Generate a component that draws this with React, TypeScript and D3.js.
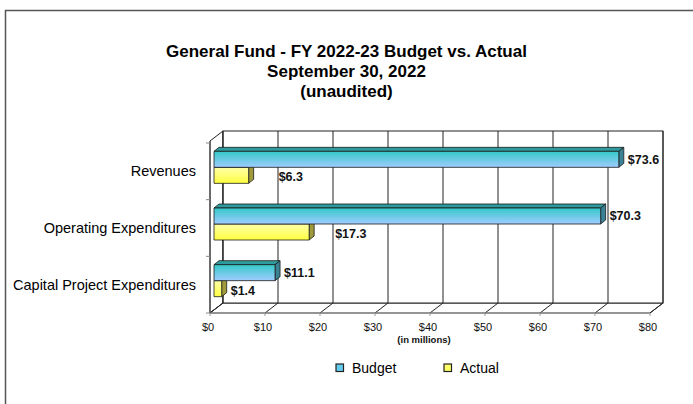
import React from "react";
import * as d3 from "d3";

const categories = ["Revenues", "Operating Expenditures", "Capital Project Expenditures"];
const budgetValues = [73.6, 70.3, 11.1];
const actualValues = [6.3, 17.3, 1.4];
const seriesNames = ["Budget", "Actual"];
const xTickValues = [0, 10, 20, 30, 40, 50, 60, 70, 80];
const titleLines = ["General Fund - FY 2022-23 Budget vs. Actual", "September 30, 2022", "(unaudited)"];
const axisNote = "(in millions)";

const W = 693;
const H = 404;
const FONT = "'Liberation Sans', Arial, Helvetica, sans-serif";

// layout
const DX = 13; // wall depth
const DY = 10;
const FRONT_TOP = 141;
const FRONT_BOTTOM = 313;
const BAR_H = 16;
const BAR_OFF_X = 4; // bar front face depth
const BAR_OFF_Y = 3;
const BAR_DX = 5; // bar depth
const BAR_DY = 4;
// manual nudges of the "Actual" value labels (as placed in the original)
const ACTUAL_LABEL_NUDGE = [21, 17, 0];

const fmt = (v: number) => `$${v.toFixed(1)}`;

export default function App() {
  const x = d3.scaleLinear().domain([0, 80]).range([210, 650]);
  const y = d3.scaleBand<string>().domain(categories).range([143, FRONT_BOTTOM]);
  const bw = y.bandwidth();

  const backL = x(0) + DX;
  const backR = x(80) + DX;
  const backT = FRONT_TOP - DY;
  const backB = FRONT_BOTTOM - DY;

  const bar = (v: number, yTopFront: number, kind: "b" | "a", key: string) => {
    const fx0 = x(0) + BAR_OFF_X;
    const fx1 = x(v) + BAR_OFF_X;
    const yt = yTopFront - BAR_OFF_Y;
    const yb = yt + BAR_H;
    const front = kind === "b" ? "url(#gBudget)" : "url(#gActual)";
    const top = kind === "b" ? "#2e9c9e" : "#d8d860";
    const side = kind === "b" ? "#3a8296" : "#a09a3c";
    return (
      <g key={key} stroke="#1a1a1a" strokeWidth={0.8} strokeLinejoin="round">
        <polygon
          points={`${fx0},${yt} ${fx1},${yt} ${fx1 + BAR_DX},${yt - BAR_DY} ${fx0 + BAR_DX},${yt - BAR_DY}`}
          fill={top}
        />
        <polygon
          points={`${fx1},${yt} ${fx1 + BAR_DX},${yt - BAR_DY} ${fx1 + BAR_DX},${yb - BAR_DY} ${fx1},${yb}`}
          fill={side}
        />
        <rect x={fx0} y={yt} width={fx1 - fx0} height={BAR_H} fill={front} />
      </g>
    );
  };

  return (
    <svg
      width={W}
      height={H}
      style={{ position: "fixed", left: 0, top: 0, background: "#fff" }}
      fontFamily={FONT}
    >
      <defs>
        <linearGradient id="gBudget" x1="0" y1="0" x2="0" y2="1">
          <stop offset="0" stopColor="#33c9c9" />
          <stop offset="1" stopColor="#a0ccff" />
        </linearGradient>
        <linearGradient id="gActual" x1="0" y1="0" x2="0" y2="1">
          <stop offset="0" stopColor="#ffffa8" />
          <stop offset="1" stopColor="#ffff40" />
        </linearGradient>
      </defs>
      <rect x={0} y={0} width={W} height={H} fill="#fff" />
      {/* outer border */}
      <path d={`M5.5,${H} V10.5 H${W}`} fill="none" stroke="#555" strokeWidth={1.5} />

      {/* title */}
      {titleLines.map((t, i) => (
        <text
          key={t}
          x={W / 2}
          y={57 + i * 20}
          textAnchor="middle"
          fontSize={17}
          fontWeight="bold"
          fill="#000"
        >
          {t}
        </text>
      ))}

      {/* walls */}
      <polygon
        points={`${x(0)},${FRONT_TOP} ${backL},${backT} ${backL},${backB} ${x(0)},${FRONT_BOTTOM}`}
        fill="#fff"
        stroke="#222"
        strokeWidth={1}
      />
      <polygon
        points={`${x(0)},${FRONT_BOTTOM} ${backL},${backB} ${backR},${backB} ${x(80)},${FRONT_BOTTOM}`}
        fill="#fff"
        stroke="#222"
        strokeWidth={1}
      />
      <rect x={backL} y={backT} width={backR - backL} height={backB - backT} fill="#fff" stroke="#222" strokeWidth={1} />
      {xTickValues.map((t) => (
        <g key={t} stroke="#222" strokeWidth={1}>
          <line x1={x(t) + DX} x2={x(t) + DX} y1={backT} y2={backB} />
          <line x1={x(t)} x2={x(t) + DX} y1={FRONT_BOTTOM} y2={backB} />
        </g>
      ))}
      <line x1={x(0)} x2={x(80)} y1={FRONT_BOTTOM} y2={FRONT_BOTTOM} stroke="#999" strokeWidth={1} />
      <line x1={x(0)} x2={x(0)} y1={FRONT_TOP} y2={FRONT_BOTTOM} stroke="#444" strokeWidth={1} />
      {/* category ticks */}
      {[...categories.map((c) => y(c) as number), FRONT_BOTTOM].map((v, i) => (
        <line key={i} x1={x(0) - 4} x2={x(0)} y1={v} y2={v} stroke="#888" strokeWidth={1} />
      ))}
      {xTickValues.map((t) => (
        <line key={"ft" + t} x1={x(t)} x2={x(t)} y1={FRONT_BOTTOM} y2={FRONT_BOTTOM + 3} stroke="#999" strokeWidth={1} />
      ))}

      {/* bars */}
      {categories.map((c, i) => {
        const center = (y(c) as number) + bw / 2 - 1;
        return (
          <g key={c}>
            {bar(actualValues[i], center, "a", "a" + i)}
            {bar(budgetValues[i], center - BAR_H, "b", "b" + i)}
          </g>
        );
      })}

      {/* value labels */}
      {categories.map((c, i) => {
        const center = (y(c) as number) + bw / 2 - 1 - BAR_OFF_Y;
        return (
          <g key={"l" + c} fontSize={12.5} fontWeight="bold" fill="#111">
            <text x={x(budgetValues[i]) + BAR_OFF_X + BAR_DX + 4} y={center - BAR_H / 2} dy="0.35em">
              {fmt(budgetValues[i])}
            </text>
            <text
              x={x(actualValues[i]) + BAR_OFF_X + BAR_DX + 4 + ACTUAL_LABEL_NUDGE[i]}
              y={center + BAR_H / 2 + 1.5}
              dy="0.35em"
            >
              {fmt(actualValues[i])}
            </text>
          </g>
        );
      })}

      {/* category labels */}
      {categories.map((c) => (
        <text
          key={"c" + c}
          x={196}
          y={(y(c) as number) + bw / 2}
          dy="0.35em"
          textAnchor="end"
          fontSize={14.5}
          fill="#000"
        >
          {c}
        </text>
      ))}

      {/* x tick labels */}
      {xTickValues.map((t) => (
        <text key={"xt" + t} x={x(t) - 2} y={331} textAnchor="middle" fontSize={11} fill="#111">
          {`$${t}`}
        </text>
      ))}
      <text x={424} y={343} textAnchor="middle" fontSize={9.5} fontWeight="bold" fill="#111">
        {axisNote}
      </text>

      {/* legend */}
      {seriesNames.map((s, i) => {
        const lx = 336 + i * 108;
        return (
          <g key={s}>
            <rect
              x={lx}
              y={364}
              width={7.5}
              height={7.5}
              fill={i === 0 ? "#66ccee" : "#ffff66"}
              stroke="#222"
              strokeWidth={1.2}
            />
            <text x={lx + 16} y={372.5} fontSize={14} fill="#000">
              {s}
            </text>
          </g>
        );
      })}
    </svg>
  );
}
